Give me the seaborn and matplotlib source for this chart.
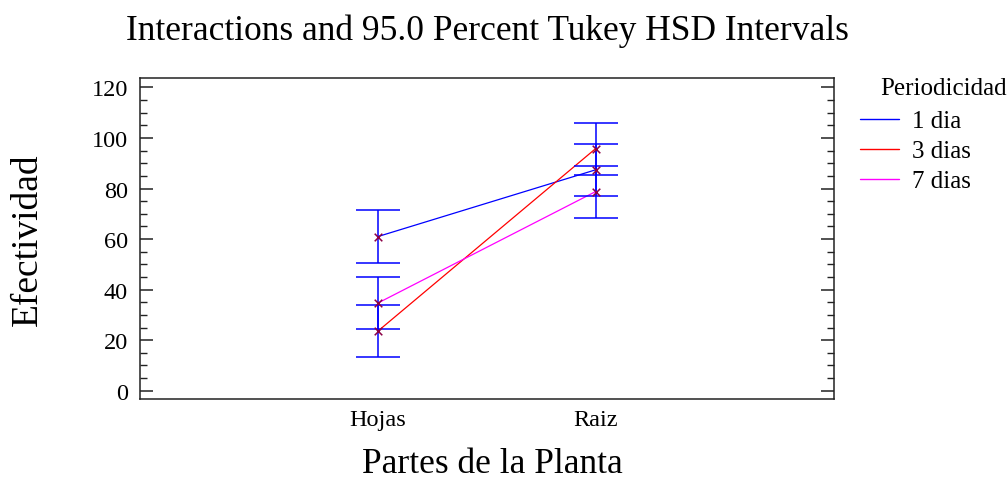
import numpy as np
import pandas as pd
import seaborn as sns
import matplotlib
matplotlib.use("Agg")
import matplotlib.pyplot as plt
from matplotlib.ticker import MultipleLocator
from matplotlib.lines import Line2D

# ---- data ----
partes = ["Hojas", "Raiz"]
periodos = ["1 dia", "3 dias", "7 dias"]
medias_1dia = [61.0, 87.4]
medias_3dias = [23.6, 95.8]
medias_7dias = [34.7, 78.8]
hsd_half = 10.3  # half-width of the 95% Tukey HSD interval

colores = ["#0000FF", "#FF0000", "#FF00FF"]

rows = []
for per, vals in zip(periodos, [medias_1dia, medias_3dias, medias_7dias]):
    for parte, v in zip(partes, vals):
        rows.append({"Partes de la Planta": parte, "Periodicidad": per, "Efectividad": v})
df = pd.DataFrame(rows)
df["xpos"] = df["Partes de la Planta"].map({p: i for i, p in enumerate(partes)})

sns.set_theme(style="white")
plt.rcParams["font.family"] = ["Liberation Serif", "DejaVu Serif"]
plt.rcParams["text.color"] = "black"
plt.rcParams["axes.labelcolor"] = "black"

fig = plt.figure(figsize=(10.08, 4.81), dpi=100)
ax = fig.add_axes([0.1392, 0.1678, 0.6882, 0.6673])

sns.lineplot(data=df, x="xpos", y="Efectividad", hue="Periodicidad",
             hue_order=periodos, palette=colores, linewidth=0.9,
             ax=ax, legend=False, sort=True)

# Tukey HSD intervals
ax.errorbar(df["xpos"], df["Efectividad"], yerr=hsd_half, fmt="none",
            ecolor="#0000FF", elinewidth=1.1, capsize=15.6, capthick=1.1, zorder=3)

sns.scatterplot(data=df, x="xpos", y="Efectividad", marker="x", color="#8B0045",
                s=30, linewidth=1.1, ax=ax, legend=False, zorder=4)

ax.set_xlim(-1.092, 2.095)
ax.set_ylim(-3.4, 123.6)
ax.set_xticks(range(len(partes)))
ax.set_xticklabels(partes)
ax.yaxis.set_major_locator(MultipleLocator(20))
ax.yaxis.set_minor_locator(MultipleLocator(5))
ax.tick_params(axis="x", length=0, labelsize=17.5, pad=7, colors="black")
ax.tick_params(axis="y", which="major", direction="in", length=9.4, width=1.1,
               right=True, left=True, labelsize=17.5, pad=9, colors="#222222",
               labelcolor="black")
ax.tick_params(axis="y", which="minor", direction="in", length=5, width=1.0,
               right=True, left=True, colors="#222222")
for sp in ax.spines.values():
    sp.set_color("#222222")
    sp.set_linewidth(1.1)

ax.set_xlabel("")
ax.set_ylabel("")
fig.text(487 / 1008, 1 - 40 / 481, "Interactions and 95.0 Percent Tukey HSD Intervals",
         ha="center", va="baseline", fontsize=25.5)
fig.text(492 / 1008, 1 - 473 / 481, "Partes de la Planta", ha="center", va="baseline",
         fontsize=25.5)
fig.text(28 / 1008, 1 - 240 / 481, "Efectividad", ha="center", va="center",
         rotation=90, fontsize=27)

# legend
handles = [Line2D([0], [0], color=c, lw=1.0) for c in colores]
fig.text(880 / 1008, 1 - 95 / 481, "Periodicidad", ha="left", va="baseline", fontsize=18)
leg = fig.legend(handles, periodos, loc="upper left",
                 bbox_to_anchor=(860 / 1008, 1 - 111 / 481), frameon=False,
                 fontsize=18, handlelength=1.55, handletextpad=0.55,
                 labelspacing=0.3, borderpad=0.0, borderaxespad=0.0)

fig.savefig("out.png", dpi=100, facecolor="white")
